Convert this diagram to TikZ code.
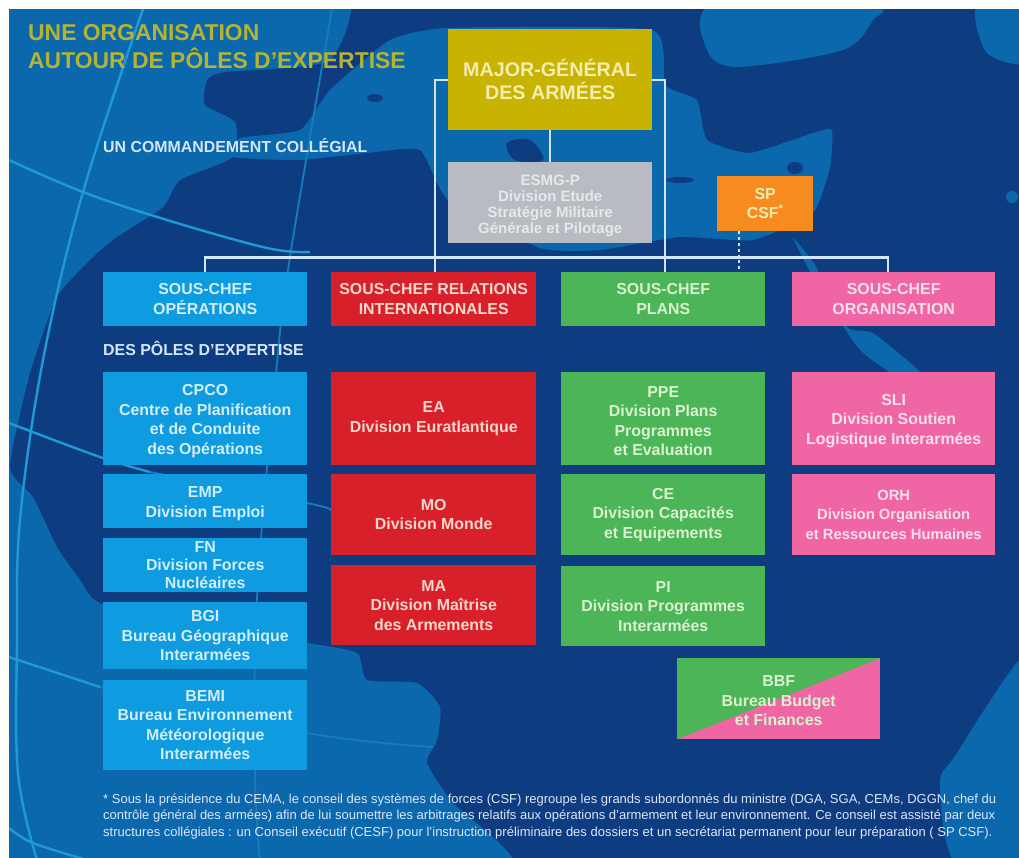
\documentclass[tikz,border=0pt]{standalone}
\usepackage{fontspec}
\setmainfont{Liberation Sans}
\usetikzlibrary{calc}
\definecolor{seab}{HTML}{0B68AC}
\definecolor{landb}{HTML}{0E3C80}
\definecolor{gridb}{HTML}{1E9AD6}
\definecolor{cblue}{HTML}{0E9BDF}
\definecolor{cred}{HTML}{D8202A}
\definecolor{cgreen}{HTML}{4CB557}
\definecolor{cpink}{HTML}{F066A4}
\definecolor{cgold}{HTML}{C8B400}
\definecolor{cgrey}{HTML}{B8BBC2}
\definecolor{corange}{HTML}{F68B1F}
\definecolor{ctitle}{HTML}{B4B432}
\definecolor{tblue}{HTML}{D2EEFA}
\definecolor{tred}{HTML}{F8D8CC}
\definecolor{tgreen}{HTML}{DAF2D0}
\definecolor{tpink}{HTML}{FBE0EC}
\definecolor{tgold}{HTML}{F4EDB0}
\definecolor{tgrey}{HTML}{E6E8EA}
\definecolor{tnote}{HTML}{DCE6F8}
\definecolor{cline}{HTML}{D6E6FA}
\tikzset{
  box/.style={anchor=north west,inner sep=0pt,align=center,font=\fontsize{15.9}{19.5}\selectfont\bfseries},
  bluebox/.style={box,fill=cblue,text=tblue,minimum width=204pt},
  redbox/.style={box,fill=cred,text=tred,minimum width=205pt},
  greenbox/.style={box,fill=cgreen,text=tgreen,minimum width=204pt},
  pinkbox/.style={box,fill=cpink,text=tpink,minimum width=203pt},
  conn/.style={draw=cline,line width=2.4pt},
  grat/.style={draw=gridb,line width=2.4pt},
  gratfaint/.style={draw=gridb!45!seab,line width=1.8pt},
  heading/.style={anchor=west,inner sep=0pt,text=cline,font=\fontsize{15.9}{18}\selectfont\bfseries}
}
\newcommand{\dropA}{\rule{0pt}{15.5pt}}
\newcommand{\dropB}{\rule{0pt}{17pt}}
\begin{document}
\begin{tikzpicture}[x=1pt,y=-1pt]
\useasboundingbox (0,0) rectangle (1019,857);
\fill[white] (0,0) rectangle (1019,857);
% map
\begin{scope}
\clip (9,9) rectangle (1022,860);
\fill[landb] (9,9) rectangle (1022,860);
% Atlantic
\fill[seab] plot[smooth cycle,tension=0.35] coordinates {(-20,-20) (335,-20) (330,60) (225,72) (207,80) (205,105) (235,122) (233,157) (180,180) (163,207) (117,237) (93,257) (57,297) (30,373) (10,467) (33,497) (57,547) (80,580) (100,603) (200,630) (307,643) (357,653) (367,680) (417,683) (440,707) (437,740) (427,763) (450,800) (505,880) (-20,880)};
% Mediterranean
\fill[seab] plot[smooth cycle,tension=0.3] coordinates {(300,130) (330,90) (390,40) (448,28) (652,30) (665,85) (697,100) (707,140) (750,153) (813,133) (832,130) (830,167) (813,213) (753,240) (680,237) (600,250) (540,248) (448,200) (420,150) (367,153) (300,160) (233,157) (240,138)};
% Black Sea, Caspian, Red Sea, others
\fill[seab] plot[smooth cycle,tension=0.5] coordinates {(713,5) (873,8) (873,20) (843,50) (737,67) (707,50)};
\fill[seab] plot[smooth cycle,tension=0.5] coordinates {(977,5) (1030,5) (1030,62) (987,53)};
\fill[seab] plot[smooth cycle,tension=0.3] coordinates {(793,238) (815,265) (847,327) (873,333) (920,372) (903,380) (860,350) (820,290)};
\fill[seab] plot[smooth cycle,tension=0.6] coordinates {(1019,660) (1040,660) (1040,870) (960,870) (940,787) (957,753)};
\fill[seab] (1012,197) circle (6);
% dark islands
\fill[landb] plot[smooth cycle,tension=0.6] coordinates {(507,143) (530,140) (543,160) (515,160)};
\fill[landb] (680,180) ellipse (14 and 3);
\fill[landb] (795,168) ellipse (8 and 6);
\fill[landb] (375,98) ellipse (8 and 4);
% graticule
\draw[grat] plot[smooth,tension=0.6] coordinates {(143,9) (83,192) (43,360) (20,520) (17,640) (18,773) (37,860)};
\draw[gratfaint] plot[smooth,tension=0.6] coordinates {(332,9) (290,257) (277,363) (257,597) (255,773) (260,860)};
\draw[grat] plot[smooth,tension=0.6] coordinates {(9,160) (83,192) (167,220) (267,248) (310,252)};
\draw[grat] plot[smooth,tension=0.6] coordinates {(9,423) (100,457) (150,472)};
\draw[gratfaint] plot[smooth,tension=0.6] coordinates {(150,472) (307,503) (330,510)};
\draw[grat] plot[smooth,tension=0.6] coordinates {(9,657) (100,687)};
\draw[gratfaint] plot[smooth,tension=0.6] coordinates {(100,687) (307,733) (433,747)};
\draw[grat] plot[smooth,tension=0.6] coordinates {(9,828) (33,843) (87,860)};
\end{scope}
% titles
\node[anchor=west,inner sep=0pt,text=ctitle,align=left,font=\fontsize{22.9}{27.5}\selectfont\bfseries] (title) at (28,46.5) {UNE ORGANISATION\\AUTOUR DE PÔLES D'EXPERTISE};
\node[heading] (hcom) at (103,146) {UN COMMANDEMENT COLLÉGIAL};
\node[heading] (hpol) at (103,348.5) {DES PÔLES D'EXPERTISE};
% top nodes
\node[box,fill=cgold,text=tgold,minimum width=204pt,minimum height=101pt,font=\fontsize{19.7}{23}\selectfont\bfseries] (mg) at (448,29) {\rule{0pt}{17pt}MAJOR-GÉNÉRAL\\DES ARMÉES};
\node[box,fill=cgrey,text=tgrey,minimum width=204pt,minimum height=81pt,font=\fontsize{15}{16.2}\selectfont\bfseries] (esmg) at (448,162) {\dropB ESMG-P\\Division Etude\\Stratégie Militaire\\Générale et Pilotage};
\node[box,fill=corange,text=tgold,minimum width=96pt,minimum height=55pt] (sp) at (717,176) {SP\\CSF\textsuperscript{*}};
% sous-chefs
\node[bluebox,minimum height=54pt] (sco) at (103,272) {SOUS-CHEF\\OPÉRATIONS};
\node[redbox,minimum height=54pt] (sri) at (331,272) {SOUS-CHEF RELATIONS\\INTERNATIONALES};
\node[greenbox,minimum height=54pt] (spl) at (561,272) {SOUS-CHEF\\PLANS};
\node[pinkbox,minimum height=54pt] (sor) at (792,272) {SOUS-CHEF\\ORGANISATION};
% blue column
\node[bluebox,minimum height=93pt] (cpco) at (103,372) {\dropA CPCO\\Centre de Planification\\et de Conduite\\des Opérations};
\node[bluebox,minimum height=54pt] (emp) at (103,474) {\dropA EMP\\Division Emploi};
\node[bluebox,minimum height=54pt,font=\fontsize{15.9}{18}\selectfont\bfseries] (fn) at (103,538) {FN\\Division Forces\\Nucléaires};
\node[bluebox,minimum height=67pt] (bgi) at (103,602) {BGI\\Bureau Géographique\\Interarmées};
\node[bluebox,minimum height=90pt] (bemi) at (103,680) {BEMI\\Bureau Environnement\\Météorologique\\Interarmées};
% red column
\node[redbox,minimum height=93pt] (ea) at (331,372) {EA\\Division Euratlantique};
\node[redbox,minimum height=81pt] (mo) at (331,474) {MO\\Division Monde};
\node[redbox,minimum height=80pt] (ma) at (331,565) {MA\\Division Maîtrise\\des Armements};
% green column
\node[greenbox,minimum height=93pt] (ppe) at (561,372) {\dropA PPE\\Division Plans\\Programmes\\et Evaluation};
\node[greenbox,minimum height=81pt] (ce) at (561,474) {CE\\Division Capacités\\et Equipements};
\node[greenbox,minimum height=80pt] (pi) at (561,566) {PI\\Division Programmes\\Interarmées};
% pink column
\node[pinkbox,minimum height=93pt] (sli) at (792,372) {\dropA SLI\\Division Soutien\\Logistique Interarmées};
\node[pinkbox,minimum height=81pt,font=\fontsize{14.8}{19.5}\selectfont\bfseries] (orh) at (792,474) {ORH\\Division Organisation\\et Ressources Humaines};
% BBF
\node[box,fill=cpink,text=tgreen,minimum width=203pt,minimum height=81pt,
  path picture={\fill[cgreen] (path picture bounding box.north west) -- (path picture bounding box.north east) -- (path picture bounding box.south west) -- cycle;}] (bbf) at (677,658) {\dropA BBF\\Bureau Budget\\et Finances};
% connectors
\coordinate (busend) at (888,257.5);
\draw[conn] (mg.south) -- (esmg.north -| mg.south);
\draw[conn] (mg.west) -| ([xshift=1.5pt]sri.north);
\draw[conn] (mg.east) -| ([xshift=2pt]spl.north);
\draw[conn] (sco.north) |- (busend) -- (busend |- sor.north);
\coordinate (dotx) at (739,250);
\draw[draw=cline,line width=2.8pt,dash pattern=on 2.8pt off 3pt] (sp.south -| dotx) -- (spl.north -| dotx);
% footnote
\node[anchor=north west,inner sep=0pt,text=tnote,align=left,font=\fontsize{13}{16.5}\selectfont] (note) at (103,793.5) {* Sous la présidence du CEMA, le conseil des systèmes de forces (CSF) regroupe les grands subordonnés du ministre (DGA, SGA, CEMs, DGGN, chef du\\contrôle général des armées) afin de lui soumettre les arbitrages relatifs aux opérations d'armement et leur environnement. Ce conseil  est assisté par deux\\structures collégiales : un Conseil exécutif (CESF) pour l'instruction préliminaire des dossiers et un secrétariat permanent pour leur préparation ( SP CSF).};
\end{tikzpicture}
\end{document}
